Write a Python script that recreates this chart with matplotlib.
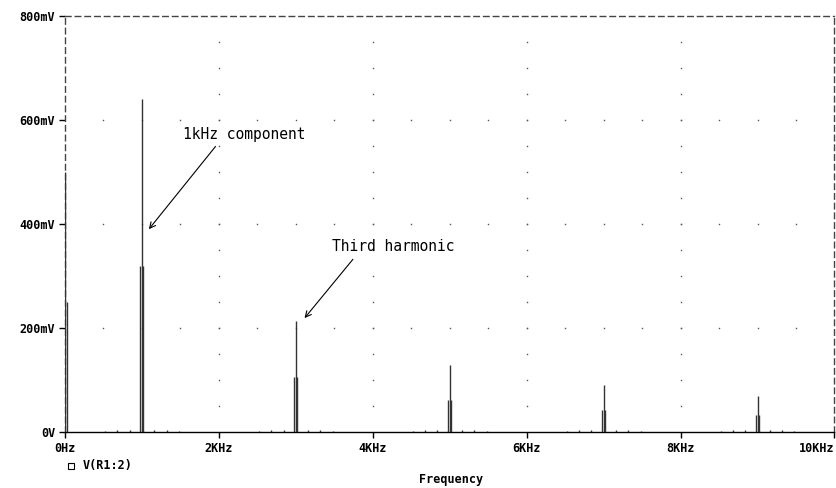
import matplotlib.pyplot as plt
import numpy as np
from matplotlib.lines import Line2D

# spectrum: harmonic centre frequency (Hz), peak bin and neighbour bins (mV)
harm_freqs = [0, 1000, 3000, 5000, 7000, 9000]
peak_mv = [500, 640, 213, 128, 91, 69]
side_mv = [250, 320, 106, 62, 42, 33]
bin_hz = 20

# small leakage bumps around each harmonic
lobe_offsets = [-480, -320, -160, 160, 320, 480]
lobe_mv = [2, 3, 4, 4, 3, 2]

x_ticks = [0, 2000, 4000, 6000, 8000, 10000]
x_labels = ['0Hz', '2KHz', '4KHz', '6KHz', '8KHz', '10KHz']
y_ticks = [0, 200, 400, 600, 800]
y_labels = ['0V', '200mV', '400mV', '600mV', '800mV']

mono = 'DejaVu Sans Mono'

fig = plt.figure(figsize=(8.37, 4.88), dpi=100)
ax = fig.add_axes([65 / 837, 56 / 488, 769.5 / 837, 416 / 488])

# build stems
fs, amps = [], []
for f, p, s in zip(harm_freqs, peak_mv, side_mv):
    fs += [f - bin_hz, f, f + bin_hz]
    amps += [s, p, s]
    if f > 0:
        for o, a in zip(lobe_offsets, lobe_mv):
            fs.append(f + o)
            amps.append(a)
ax.vlines(fs, 0, amps, color='#333333', linewidth=1.0, zorder=3)

ax.set_xlim(0, 10000)
ax.set_ylim(0, 800)

# dotted grid: dots at minor steps along the major lines
for gx in x_ticks[1:-1]:
    gy = np.arange(50, 800, 50)
    ax.plot([gx] * len(gy), gy, 's', color='#555555', markersize=1.0,
            markeredgewidth=0, zorder=1)
for gy in y_ticks[1:-1]:
    gx = np.arange(500, 10000, 500)
    ax.plot(gx, [gy] * len(gx), 's', color='#555555', markersize=1.0,
            markeredgewidth=0, zorder=1)

# spines
for side in ['top', 'right', 'left']:
    ax.spines[side].set_linestyle((0, (4, 3)))
    ax.spines[side].set_color('#444444')
    ax.spines[side].set_linewidth(1.0)
ax.spines['bottom'].set_color('black')
ax.spines['bottom'].set_linewidth(1.0)

ax.set_xticks(x_ticks)
ax.set_xticklabels(x_labels, fontfamily=mono, fontweight='bold', fontsize=8.5)
ax.set_yticks(y_ticks)
ax.set_yticklabels(y_labels, fontfamily=mono, fontweight='bold', fontsize=8.5)
ax.xaxis.get_ticklabels()[-1].set_horizontalalignment('right')
ax.tick_params(direction='out', length=4, width=1, color='black', pad=3)

# annotations
ax.annotate('1kHz component', xy=(1090, 390), xytext=(1530, 573),
            fontfamily=mono, fontsize=10.5, va='center', ha='left',
            arrowprops=dict(arrowstyle='->', color='black', lw=0.8,
                            shrinkA=2, shrinkB=0,
                            relpos=(0.3, 0.0)))
ax.annotate('Third harmonic', xy=(3113, 219), xytext=(3476, 356),
            fontfamily=mono, fontsize=10.5, va='center', ha='left',
            arrowprops=dict(arrowstyle='->', color='black', lw=0.8,
                            shrinkA=2, shrinkB=0,
                            relpos=(0.2, 0.0)))

# legend and x-axis title
fig.add_artist(Line2D([71 / 837], [1 - 466 / 488], marker='s', markersize=4,
                      markerfacecolor='white', markeredgecolor='black',
                      markeredgewidth=0.8, transform=fig.transFigure))
fig.text(83 / 837, 1 - 466 / 488, 'V(R1:2)', fontfamily=mono,
         fontweight='bold', fontsize=8.5, va='center', ha='left')
fig.text(451 / 837, 1 - 480 / 488, 'Frequency', fontfamily=mono,
         fontweight='bold', fontsize=8.5, va='center', ha='center')

fig.savefig('out.png', dpi=100)
